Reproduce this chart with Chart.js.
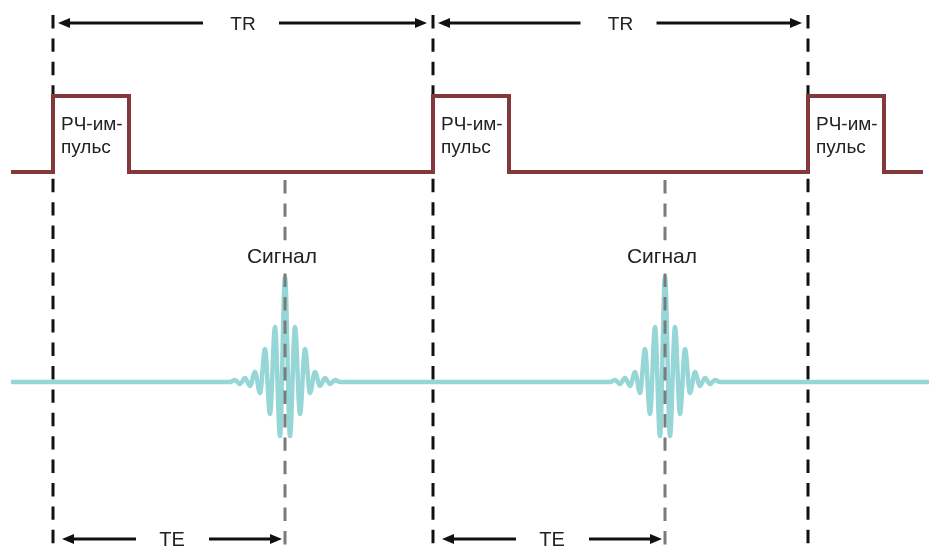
<!DOCTYPE html>
<html>
<head>
<meta charset="utf-8">
<script src="https://cdn.jsdelivr.net/npm/chart.js@4.4.1/dist/chart.umd.min.js"></script>
<style>
  html, body { margin: 0; padding: 0; background: #fff; }
  #wrap { width: 930px; height: 547px; }
</style>
</head>
<body>
<div id="wrap"><canvas id="myChart"></canvas></div>
<script>
// time in arbitrary units (about 1 unit per px), 0 = first RF pulse
var pulseTimes = [0, 380, 755];
var pulseWidth = 76;
var echoTimes = [232, 612];
var traceStart = -42;
var traceEnd = 870;
// echo extremes, one every 5 units around the echo centre
var echoStep = 5;
var echoShape = [0, 2, -2, 4, -4, 10, -11, 33, -32, 55, -54, 105, -54, 55, -32, 33, -11, 10, -4, 4, -2, 2, 0];
var rfLabel = ["РЧ-им-", "пульс"];
var signalLabel = "Сигнал";
var trLabel = "TR";
var teLabel = "TE";

var FONT = '"Liberation Sans", Arial, sans-serif';

function rfPoints() {
  var pts = [{x: traceStart, y: 0}];
  pulseTimes.forEach(function(p) {
    pts.push({x: p, y: 0}, {x: p, y: 1}, {x: p + pulseWidth, y: 1}, {x: p + pulseWidth, y: 0});
  });
  pts.push({x: traceEnd, y: 0});
  return pts;
}

function signalPoints() {
  var pts = [{x: traceStart, y: 0}];
  var half = (echoShape.length - 1) / 2;
  echoTimes.forEach(function(e) {
    for (var k = 0; k < echoShape.length; k++)
      pts.push({x: e + (k - half) * echoStep, y: echoShape[k]});
  });
  pts.push({x: traceEnd + 6, y: 0});
  return pts;
}

function arrow(ctx, from, to, y) {
  var dir = to > from ? 1 : -1;
  ctx.beginPath();
  ctx.moveTo(from, y);
  ctx.lineTo(to - dir * 9, y);
  ctx.stroke();
  ctx.beginPath();
  ctx.moveTo(to, y);
  ctx.lineTo(to - dir * 12, y - 5);
  ctx.lineTo(to - dir * 12, y + 5);
  ctx.closePath();
  ctx.fill();
}

var overlay = {
  id: 'overlay',
  beforeDatasetsDraw: function(chart) {
    var ctx = chart.ctx, xs = chart.scales.x;
    ctx.save();
    ctx.strokeStyle = '#111';
    ctx.lineWidth = 3;
    ctx.setLineDash([13.4, 10]);
    pulseTimes.forEach(function(t) {
      var px = xs.getPixelForValue(t);
      ctx.beginPath();
      ctx.moveTo(px, 15);
      ctx.lineTo(px, chart.height);
      ctx.stroke();
    });
    ctx.restore();
  },
  afterDatasetsDraw: function(chart) {
    var ctx = chart.ctx, xs = chart.scales.x;
    ctx.save();
    // echo markers
    ctx.strokeStyle = '#7b7b7b';
    ctx.lineWidth = 3;
    ctx.setLineDash([13.4, 10]);
    echoTimes.forEach(function(t) {
      var px = xs.getPixelForValue(t);
      ctx.beginPath();
      ctx.moveTo(px, 180);
      ctx.lineTo(px, chart.height);
      ctx.stroke();
      ctx.fillStyle = '#fff';
      ctx.fillRect(px - 4, 241, 8, 31);
    });
    ctx.setLineDash([]);

    ctx.fillStyle = '#222';
    ctx.textBaseline = 'alphabetic';

    // RF pulse labels
    ctx.font = '19px ' + FONT;
    ctx.textAlign = 'left';
    pulseTimes.forEach(function(t) {
      var px = xs.getPixelForValue(t);
      ctx.fillText(rfLabel[0], px + 8, 130);
      ctx.fillText(rfLabel[1], px + 8, 153);
    });

    // signal labels
    ctx.font = '21px ' + FONT;
    ctx.textAlign = 'center';
    echoTimes.forEach(function(t) {
      ctx.fillText(signalLabel, xs.getPixelForValue(t) - 3, 263);
    });

    // TR and TE arrows
    ctx.strokeStyle = '#111';
    ctx.lineWidth = 3;
    for (var i = 0; i < pulseTimes.length - 1; i++) {
      var a = xs.getPixelForValue(pulseTimes[i]);
      var b = xs.getPixelForValue(pulseTimes[i + 1]);
      var mid = (a + b) / 2;
      ctx.fillStyle = '#111';
      arrow(ctx, mid - 40, a + 5, 23);
      arrow(ctx, mid + 36, b - 6, 23);
      ctx.fillStyle = '#222';
      ctx.font = '19px ' + FONT;
      ctx.fillText(trLabel, mid, 30);
    }
    for (var j = 0; j < echoTimes.length; j++) {
      var s = xs.getPixelForValue(pulseTimes[j]);
      var e = xs.getPixelForValue(echoTimes[j]);
      var m = (s + e) / 2;
      ctx.fillStyle = '#111';
      arrow(ctx, m - 33, s + 9, 539);
      arrow(ctx, m + 40, e - 3, 539);
      ctx.fillStyle = '#222';
      ctx.font = '20px ' + FONT;
      ctx.fillText(teLabel, m + 3, 546);
    }
    ctx.restore();
  }
};

new Chart("myChart", {
  type: "line",
  data: {
    datasets: [{
      data: rfPoints(),
      yAxisID: 'yRF',
      borderColor: '#83383c',
      borderWidth: 4,
      pointRadius: 0,
      tension: 0,
      borderJoinStyle: 'miter'
    }, {
      data: signalPoints(),
      yAxisID: 'ySig',
      borderColor: '#96d6d6',
      borderWidth: 4.5,
      pointRadius: 0,
      cubicInterpolationMode: 'monotone'
    }]
  },
  options: {
    responsive: true,
    maintainAspectRatio: false,
    animation: false,
    layout: { padding: 0 },
    plugins: { legend: { display: false }, tooltip: { enabled: false } },
    scales: {
      x: { type: 'linear', min: -53, max: 877, display: false },
      yRF: { type: 'linear', min: -375 / 76, max: 172 / 76, display: false },
      ySig: { type: 'linear', min: -165, max: 382, display: false }
    }
  },
  plugins: [overlay]
});
</script>
</body>
</html>
